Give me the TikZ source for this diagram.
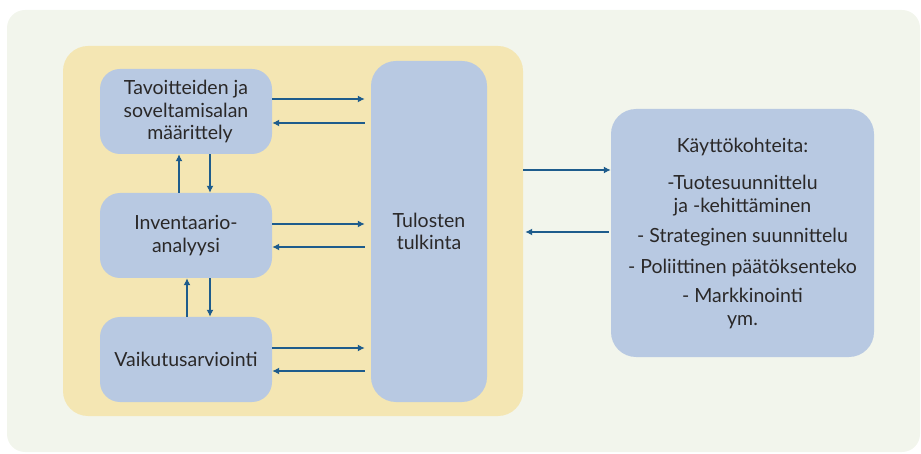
\documentclass[tikz,border=0pt]{standalone}
\usepackage{fontspec}
\setmainfont{Lato}
\usetikzlibrary{arrows.meta,calc}
\definecolor{panelbg}{HTML}{F2F5EC}
\definecolor{coreyellow}{HTML}{F4E6B3}
\definecolor{boxblue}{HTML}{B8C9E2}
\definecolor{arrowblue}{HTML}{1E5C8C}
\definecolor{ink}{HTML}{2A2828}
\begin{document}
\begin{tikzpicture}[x=1pt,y=-1pt,
  font=\fontsize{19.5}{22.5}\selectfont,
  stage/.style={fill=boxblue,draw=none,rounded corners=20pt,text=ink,align=center,
    minimum width=172pt,minimum height=85pt,inner sep=0pt},
  flow/.style={draw=arrowblue,line width=1.3pt,-{Latex[length=7pt,width=7pt]}}]
\useasboundingbox (0,0) rectangle (921,454);
% outer panel and the yellow core area
\node[fill=panelbg,rounded corners=18pt,minimum width=913pt,minimum height=442pt,inner sep=0pt]
  (bg) at (463.5,231) {};
\node[fill=coreyellow,rounded corners=25pt,minimum width=460pt,minimum height=370pt,inner sep=0pt]
  (core) at (293,231) {};
% phase boxes
\node[stage] (goal) at (186,111.5) {Tavoitteiden ja\\soveltamisalan\\\hspace*{8pt}määrittely};
\node[stage] (inv) at (186,235.5) {Inventaario-\\analyysi};
\node[stage] (imp) at (186,359.5) {Vaikutusarviointi};
\node[stage,rounded corners=25pt,minimum width=116pt,minimum height=341pt] (tul) at (429,231.5)
  {Tulosten\\tulkinta};
\node[stage,rounded corners=25pt,minimum width=263pt,minimum height=248pt] (use) at (742.5,233)
  {Käyttökohteita:\\[15pt]-Tuotesuunnittelu\\ja -kehittäminen\\[8pt]- Strateginen suunnittelu\\[8pt]%
   - Poliittinen päätöksenteko\\[7pt]- Markkinointi\\ym.};
% helper levels for the horizontal connectors
\coordinate (h1) at (0,99);  \coordinate (h2) at (0,123);
\coordinate (h3) at (0,224); \coordinate (h4) at (0,247);
\coordinate (h5) at (0,348); \coordinate (h6) at (0,371);
\coordinate (h7) at (0,170); \coordinate (h8) at (0,232);
\coordinate (v1) at (179,0); \coordinate (v2) at (210,0);
\coordinate (v3) at (187,0);
% phases <-> interpretation
\draw[flow,shorten >=6pt] (goal.east |- h1) -- (tul.west |- h1);
\draw[flow,shorten <=6pt] (tul.west |- h2) -- (goal.east |- h2);
\draw[flow,shorten >=6pt] (inv.east |- h3) -- (tul.west |- h3);
\draw[flow,shorten <=6pt] (tul.west |- h4) -- (inv.east |- h4);
\draw[flow,shorten >=6pt] (imp.east |- h5) -- (tul.west |- h5);
\draw[flow,shorten <=6pt] (tul.west |- h6) -- (imp.east |- h6);
% between phases
\draw[flow] (inv.north -| v1) -- (goal.south -| v1);
\draw[flow] (goal.south -| v2) -- (inv.north -| v2);
\draw[flow] (imp.north -| v3) -- (inv.south -| v3);
\draw[flow] (inv.south -| v2) -- (imp.north -| v2);
% core <-> applications
\draw[flow] (core.east |- h7) -- (use.west |- h7);
\draw[flow,shorten <=2pt,shorten >=2pt] (use.west |- h8) -- (core.east |- h8);
\end{tikzpicture}
\end{document}
